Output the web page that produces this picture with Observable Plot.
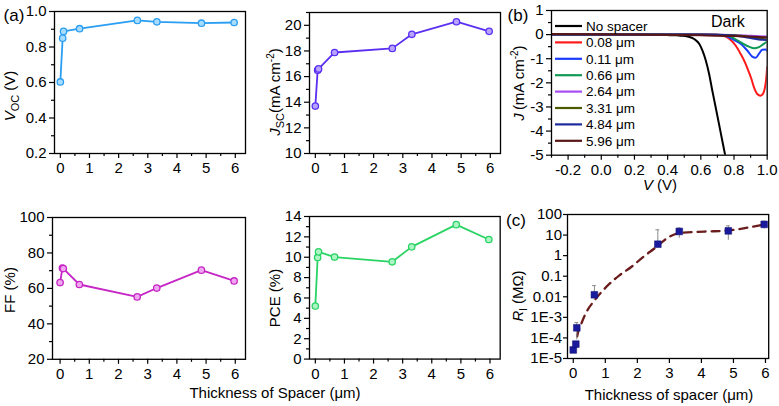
<!DOCTYPE html>
<html><head><meta charset="utf-8">
<script src="https://cdn.jsdelivr.net/npm/d3@7"></script>
<script src="https://cdn.jsdelivr.net/npm/@observablehq/plot@0.6"></script>
<style>
html,body{margin:0;padding:0;background:#fff;}
#chart{position:relative;width:779px;height:406px;overflow:hidden;font-family:"Liberation Sans",Arial,sans-serif;}
#chart svg{position:absolute;overflow:visible;}
</style></head><body><div id="chart"></div>
<script>
// ---------- data ----------
const thickness = [0, 0.08, 0.11, 0.66, 2.64, 3.31, 4.84, 5.96];
const voc = [0.603, 0.85, 0.888, 0.903, 0.950, 0.942, 0.934, 0.938];
const jsc = [13.7, 16.5, 16.6, 17.88, 18.2, 19.3, 20.28, 19.53];
const ff  = [63.3, 71.5, 71.2, 62.2, 55.2, 60.2, 70.3, 64.2];
const pce = [5.2, 9.98, 10.53, 10.02, 9.55, 11.02, 13.2, 11.74];

// panel (b): dark J-V curves
const jvLabels = ["No spacer", "0.08 \u03bcm", "0.11 \u03bcm", "0.66 \u03bcm", "2.64 \u03bcm", "3.31 \u03bcm", "4.84 \u03bcm", "5.96 \u03bcm"];
const jvV = [
  [-0.3, 0, 0.2, 0.4, 0.45, 0.48, 0.52, 0.56, 0.59, 0.61, 0.63, 0.65, 0.67, 0.69, 0.71, 0.73, 0.75, 0.76],
  [-0.3, 0.5, 0.7, 0.72, 0.75, 0.78, 0.81, 0.84, 0.87, 0.89, 0.905, 0.92, 0.94, 0.96, 0.975, 0.985, 0.993, 1.0],
  [-0.3, 0.5, 0.72, 0.76, 0.80, 0.84, 0.88, 0.91, 0.93, 0.95, 0.97, 0.99, 1.0],
  [-0.3, 0.5, 0.74, 0.78, 0.82, 0.86, 0.89, 0.92, 0.95, 0.98, 1.0],
  [-0.3, 0.6, 0.8, 0.9, 1.0],
  [-0.3, 0.6, 0.8, 0.9, 0.95, 1.0],
  [-0.3, 0.6, 0.8, 0.88, 0.95, 1.0],
  [-0.3, 0.2, 0.6, 0.8, 1.0]
];
const jvJ = [
  [0, 0, -0.005, -0.02, -0.03, -0.045, -0.08, -0.18, -0.38, -0.66, -1.07, -1.63, -2.35, -3.03, -3.72, -4.42, -5.1, -5.4],
  [0, 0, -0.01, -0.03, -0.08, -0.22, -0.45, -0.8, -1.21, -1.56, -1.84, -2.18, -2.46, -2.53, -2.45, -2.25, -1.9, -1.35],
  [0, 0, -0.02, -0.08, -0.22, -0.38, -0.66, -0.91, -0.96, -0.8, -0.63, -0.62, -0.68],
  [0.02, 0, -0.02, -0.08, -0.24, -0.4, -0.5, -0.57, -0.52, -0.38, -0.3],
  [0, 0, -0.02, -0.05, -0.08],
  [0, 0, -0.03, -0.1, -0.15, -0.12],
  [0, 0, -0.04, -0.12, -0.2, -0.22],
  [0.03, 0, -0.03, -0.06, -0.12]
];

// panel (c): leakage resistance
const rl   = [2.6e-5, 5e-5, 3.1e-4, 0.0125, 3.6, 15, 16, 33];
const rlHi = [2.6e-5, 5e-5, 5.6e-4, 0.035, 18, 22, 28, 47];
const rlLo = [2.6e-5, 5e-5, 8e-5, 0.0125, 3.6, 7, 5.5, 20];
const fitX = [0.05, 0.07, 0.15, 0.25, 0.41, 0.66, 0.98, 1.44, 1.81, 2.17, 2.59, 2.95, 3.3, 4.1, 4.83, 5.45, 5.95];
const fitR = [2.5e-5, 4e-5, 1.9e-4, 4.9e-4, 1.8e-3, 6.6e-3, 0.025, 0.11, 0.28, 0.83, 2.6, 7.4, 12.5, 14.8, 16.6, 23, 32];

const aXTicks = [0, 1, 2, 3, 4, 5, 6];
const aXMinor = [0.5, 1.5, 2.5, 3.5, 4.5, 5.5];
const vocTicks = [0.2, 0.4, 0.6, 0.8, 1.0];
const jscTicks = [10, 12, 14, 16, 18, 20];
const ffTicks = [20, 40, 60, 80, 100];
const pceTicks = [0, 2, 4, 6, 8, 10, 12, 14];
const bXTicks = [-0.2, 0, 0.2, 0.4, 0.6, 0.8, 1.0];
const bYTicks = [-5, -4, -3, -2, -1, 0, 1];
const cYTicks = [1e-5, 1e-4, 1e-3, 0.01, 0.1, 1, 10, 100];
const cYLabels = ["1E-5", "1E-4", "1E-3", "0.01", "0.1", "1", "10", "100"];

// ---------- styles ----------
const FONT = '"Liberation Sans", Arial, sans-serif';
const colVoc = "#2a9ef2", colJsc = "#5a2ff2", colFF = "#c526c5", colPCE = "#2ad464";
const tintVoc = "#a8dcff", tintJsc = "#b7a4ff", tintFF = "#f0a6f0", tintPCE = "#aef5c6";
const jvColors = ["#000000", "#ff1a1a", "#1a3cff", "#119a55", "#a64df5", "#4d5a00", "#1c2a9c", "#5a1616"];

const chart = document.getElementById("chart");
const rows = thickness.map((x, i) => ({x, voc: voc[i], jsc: jsc[i], ff: ff[i], pce: pce[i], rl: rl[i], hi: rlHi[i], lo: rlLo[i]}));
const fitRows = fitX.map((x, i) => ({x, r: fitR[i]}));

function range(a, b, s) { const out = []; for (let v = a; v <= b + 1e-9; v += s) out.push(+v.toFixed(4)); return out; }

function panel(rect, opts, marks) {
  const ml = 60, mt = 12, mr = 12, mb = 34;
  const svg = Plot.plot({
    width: (rect.r - rect.l) + ml + mr,
    height: (rect.b - rect.t) + mt + mb,
    marginLeft: ml, marginTop: mt, marginRight: mr, marginBottom: mb,
    style: {fontFamily: FONT, fontSize: "15px", color: "#000", background: "transparent", overflow: "visible"},
    ...opts,
    marks
  });
  svg.style.left = (rect.l - ml) + "px";
  svg.style.top = (rect.t - mt) + "px";
  chart.appendChild(svg);
  return svg;
}

function axesMarks(xt, xm, yt, ym, xfmt, yfmt, ySize = 5, yPad = 3) {
  const m = [
    Plot.axisX({ticks: xt, tickSize: 5, tickPadding: 4, fontSize: 15, label: null, tickFormat: xfmt, stroke: "#000", strokeWidth: 1.2}),
    Plot.axisY({ticks: yt, tickSize: ySize, tickPadding: yPad, fontSize: 15, label: null, tickFormat: yfmt, stroke: "#000", strokeWidth: 1.2})
  ];
  if (xm) m.push(Plot.axisX({ticks: xm, tickSize: 3, label: null, tickFormat: () => "", stroke: "#000", strokeWidth: 1.2}));
  if (ym) m.push(Plot.axisY({ticks: ym, tickSize: 3, label: null, tickFormat: () => "", stroke: "#000", strokeWidth: 1.2}));
  return m;
}

function seriesMarks(key, col, tint) {
  return [
    Plot.line(rows, {x: "x", y: key, stroke: col, strokeWidth: 1.8}),
    Plot.dot(rows, {x: "x", y: key, r: 3.2, fill: tint, stroke: col, strokeWidth: 1.3})
  ];
}

const fmtInt = d => String(d);
const fmtA = d => String(d);

// (a) Voc
panel({l: 54, t: 11, r: 245, b: 153},
  {x: {domain: [-0.2, 6.35]}, y: {domain: [0.2, 1.0]}},
  [...axesMarks(aXTicks, aXMinor, vocTicks, range(0.3, 0.9, 0.2), fmtA, d => d.toFixed(1)),
   ...seriesMarks("voc", colVoc, tintVoc), Plot.frame({stroke: "#000", strokeWidth: 1.3})]);

// (a) Jsc
panel({l: 309, t: 12, r: 500, b: 153},
  {x: {domain: [-0.2, 6.35]}, y: {domain: [10, 21]}},
  [...axesMarks(aXTicks, aXMinor, jscTicks, range(11, 21, 2), fmtA, fmtInt),
   ...seriesMarks("jsc", colJsc, tintJsc), Plot.frame({stroke: "#000", strokeWidth: 1.3})]);

// (a) FF
panel({l: 52, t: 216.5, r: 245, b: 358.3},
  {x: {domain: [-0.26, 6.35]}, y: {domain: [20, 100]}},
  [...axesMarks(aXTicks, aXMinor, ffTicks, range(30, 90, 20), fmtA, fmtInt),
   ...seriesMarks("ff", colFF, tintFF), Plot.frame({stroke: "#000", strokeWidth: 1.3})]);

// (a) PCE
panel({l: 309.3, t: 215.7, r: 500, b: 358.3},
  {x: {domain: [-0.2, 6.35]}, y: {domain: [0, 14]}},
  [...axesMarks(aXTicks, aXMinor, pceTicks, range(1, 13, 2), fmtA, fmtInt),
   ...seriesMarks("pce", colPCE, tintPCE), Plot.frame({stroke: "#000", strokeWidth: 1.3})]);

// (b) dark J-V
const jvMarks = jvLabels.map((lab, s) =>
  Plot.line(jvV[s].map((v, i) => ({v, j: jvJ[s][i]})), {x: "v", y: "j", stroke: jvColors[s], strokeWidth: 2, clip: true, curve: "monotone-x"}));
panel({l: 551, t: 10, r: 766.7, b: 154.7},
  {x: {domain: [-0.3, 1.0]}, y: {domain: [-5, 1]}},
  [...axesMarks(bXTicks, range(-0.3, 0.9, 0.2), bYTicks, range(-4.5, 0.5, 1), d => d.toFixed(1), fmtInt),
   ...jvMarks, Plot.frame({stroke: "#000", strokeWidth: 1.3})]);

// (c) R_l
panel({l: 566.5, t: 214, r: 767.7, b: 358},
  {x: {domain: [-0.18, 6.1]}, y: {type: "log", domain: [1e-5, 100]}},
  [...axesMarks(aXTicks, null, cYTicks, null, fmtA, d => cYLabels[cYTicks.indexOf(d)], 4, 1.5),
   Plot.line(fitRows, {x: "x", y: "r", stroke: "#6b1c1c", strokeWidth: 2.3, strokeDasharray: "8,6", curve: "monotone-x"}),
   Plot.ruleX(rows.filter(d => d.hi > d.lo), {x: "x", y1: "lo", y2: "hi", stroke: "#8c8c8c", strokeWidth: 1}),
   Plot.ruleY(rows.filter(d => d.hi > d.rl), {y: "hi", x1: d => d.x - 0.06, x2: d => d.x + 0.06, stroke: "#8c8c8c", strokeWidth: 1}),
   Plot.dot(rows, {x: "x", y: "rl", symbol: "square", r: 3.8, fill: "#1a1a9c", stroke: "#101070", strokeWidth: 0.5}),
   Plot.frame({stroke: "#000", strokeWidth: 1.3})]);

// ---------- overlay: titles, panel labels, legend ----------
const ov = d3.select(chart).append("svg")
  .attr("width", 779).attr("height", 406)
  .style("left", "0px").style("top", "0px")
  .style("font-family", FONT).style("pointer-events", "none");

function richText(x, y, parts, rotate, size) {
  const t = ov.append("text")
    .attr("transform", `translate(${x},${y})` + (rotate ? " rotate(-90)" : ""))
    .attr("text-anchor", "middle").attr("dy", "0.35em")
    .attr("font-size", size || 15).attr("fill", "#000");
  let shift = 0;
  for (const p of parts) {
    const target = typeof p === "string" ? {t: p} : p;
    const ts = t.append("tspan").text(target.t);
    let want = 0;
    if (target.sub) { want = 4; ts.attr("font-size", 11); }
    if (target.sup) { want = -6; ts.attr("font-size", 10); }
    if (want !== shift) { ts.attr("dy", want - shift); shift = want; }
    if (target.i) ts.attr("font-style", "italic");
  }
  return t;
}

// panel labels
richText(14, 15, ["(a)"], false, 17);
richText(518, 15, ["(b)"], false, 17);
richText(516, 220, ["(c)"], false, 17);

// y titles
richText(10, 96, [{t: "V", i: true}, {t: "OC", sub: true}, " (V)"], true);
richText(275, 92, [{t: "J", i: true}, {t: "SC", sub: true}, "(mA cm", {t: "-2", sup: true}, ")"], true);
richText(10, 290, ["FF (%)"], true);
richText(275, 298, ["PCE (%)"], true);
richText(519, 83, [{t: "J", i: true}, "\u2009(mA cm", {t: "-2", sup: true}, ")"], true);
richText(518, 296, [{t: "R", i: true}, {t: "l", sub: true}, " (M\u03a9)"], true);

// x titles
richText(275, 393, ["Thickness of Spacer (\u03bcm)"], false);
richText(669, 395, ["Thickness of spacer (\u03bcm)"], false);
richText(660, 185, [{t: "V", i: true}, " (V)"], false);

// legend (b)
jvLabels.forEach((lab, s) => {
  const y = 26 + s * 16.4;
  ov.append("line").attr("x1", 555).attr("x2", 582).attr("y1", y).attr("y2", y)
    .attr("stroke", jvColors[s]).attr("stroke-width", 2.2);
  ov.append("text").attr("x", 586).attr("y", y).attr("dy", "0.35em")
    .attr("font-size", 13.5).attr("fill", "#000").text(lab);
});
ov.append("text").attr("x", 711).attr("y", 21).attr("dy", "0.35em")
  .attr("font-size", 16).attr("fill", "#000").text("Dark");
</script>
</body></html>
